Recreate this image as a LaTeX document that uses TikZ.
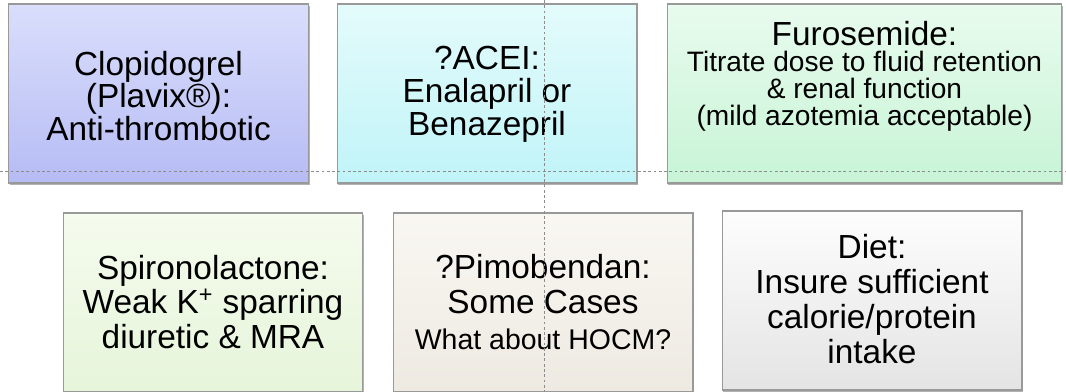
\documentclass[tikz,border=0pt]{standalone}
\usepackage{fontspec}
\setmainfont{Liberation Sans}
\usepackage{tikz}
\usetikzlibrary{shadows}

\definecolor{clopiTop}{RGB}{218,222,252}
\definecolor{clopiBot}{RGB}{182,188,244}
\definecolor{aceiTop}{RGB}{228,251,251}
\definecolor{aceiBot}{RGB}{192,244,248}
\definecolor{furoTop}{RGB}{232,251,238}
\definecolor{furoBot}{RGB}{200,244,214}
\definecolor{spiroTop}{RGB}{245,251,238}
\definecolor{spiroBot}{RGB}{230,245,218}
\definecolor{pimoTop}{RGB}{249,247,242}
\definecolor{pimoBot}{RGB}{238,234,226}
\definecolor{dietTop}{RGB}{253,253,253}
\definecolor{dietBot}{RGB}{228,228,228}

\tikzset{
  drugbox/.style={rectangle, draw=black!40, line width=0.6pt,
    minimum width=6cm, minimum height=3.58cm, inner sep=0pt,
    drop shadow={shadow xshift=0.7pt, shadow yshift=-1.2pt, fill=black!60, opacity=0.5}},
  boxtext/.style={align=center, inner sep=0pt, text=black},
  guide/.style={draw=black!45, line width=0.4pt, dash pattern=on 1.6pt off 1.4pt}
}

\begin{document}
\begin{tikzpicture}[x=0.02cm, y=-0.02cm]

\useasboundingbox (0,0) rectangle (1066,392);


\node (clopi) at (158.5, 93.5) [drugbox, top color=clopiTop, bottom color=clopiBot] {};

\node (acei) at (487, 93.5) [drugbox, top color=aceiTop, bottom color=aceiBot] {};

\node (furo) at (864.5, 93.5) [drugbox, minimum width=7.9cm, top color=furoTop, bottom color=furoBot] {};



\node (spiro) at (213, 302.5) [drugbox, top color=spiroTop, bottom color=spiroBot] {};

\node (pimo) at (543, 302.5) [drugbox, top color=pimoTop, bottom color=pimoBot] {};

\node (diet) at (872, 300.5) [drugbox, top color=dietTop, bottom color=dietBot] {};




  \node (clopiTxt) at (158.5, 96) [boxtext, font=\fontsize{19}{17.6}\selectfont]
    {Clopidogrel\\(Plavix®):\\Anti-thrombotic};


  \node (aceiTxt) at (487, 94) [boxtext, font=\fontsize{19}{18.8}\selectfont]
    {?ACEI:\\Enalapril or\\Benazepril};


  \node (furoTxt) at (864.5, 76) [boxtext, font=\fontsize{16}{15.2}\selectfont]
    {{\fontsize{19}{15.2}\selectfont Furosemide:}\\Titrate dose to fluid retention\\\& renal function\\(mild azotemia acceptable)};


  \node (spiroTxt) at (213, 302) [boxtext, font=\fontsize{19}{19.4}\selectfont]
    {Spironolactone:\\Weak K\textsuperscript{+} sparring\\diuretic \& MRA};


  \node (pimoTxt) at (543, 302) [boxtext, font=\fontsize{19}{20}\selectfont]
    {?Pimobendan:\\Some Cases\\{\fontsize{16.2}{20}\selectfont What about HOCM?}};


  \node (dietTxt) at (872, 299) [boxtext, font=\fontsize{19}{20}\selectfont]
    {Diet:\\Insure sufficient\\calorie/protein\\intake};




\coordinate (hGuideL) at (0, 171);
\coordinate (hGuideR) at (1066, 171);
\coordinate (vGuideT) at (544, 0);
\coordinate (vGuideB) at (544, 392);

\draw [guide] (hGuideL) -- (hGuideR);

\draw [guide] (vGuideT) -- (vGuideB);


\end{tikzpicture}
\end{document}
